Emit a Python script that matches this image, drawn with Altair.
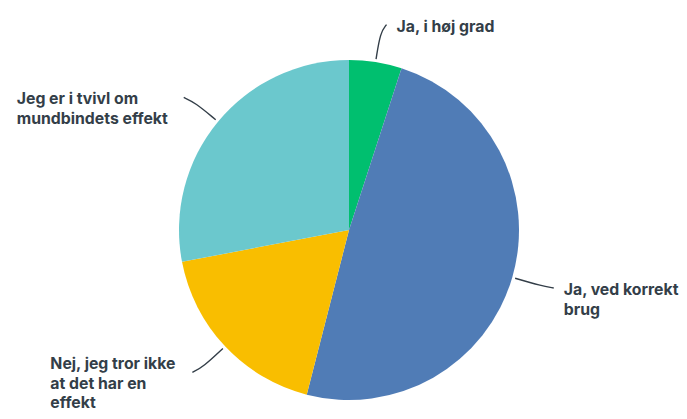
import math
import altair as alt
import pandas as pd

# ---- data ----
categories = [
    "Ja, i høj grad",
    "Ja, ved korrekt brug",
    "Nej, jeg tror ikke at det har en effekt",
    "Jeg er i tvivl om mundbindets effekt",
]
values = [5, 49, 18, 28]
label_lines = [
    ["Ja, i høj grad"],
    ["Ja, ved korrekt", "brug"],
    ["Nej, jeg tror ikke", "at det har en", "effekt"],
    ["Jeg er i tvivl om", "mundbindets effekt"],
]
colors = ["#00BF6F", "#507CB6", "#F9BE00", "#6BC8CD"]

# ---- layout (styles / geometry, not data) ----
W, H = 671, 403
CX, CY, R = 341, 222, 170
R_START, R_BEND, R_END, HOOK = 173, 200, 208, 5
GAP_RIGHT, GAP_LEFT = 10, 12
LEFT_LABEL_WIDTH = {2: 130, 3: 155}
LABEL_DY = {2: -10}          # keep the 3-line label inside the bottom edge
FONT = "Inter"
FS = 15.8
LH = 19.5
TEXT_COLOR = "#333E48"

total = sum(values)
pie = pd.DataFrame({"cat": categories, "value": values, "idx": range(len(values))})

line_rows, text_rows = [], []
cum = 0.0
for i, v in enumerate(values):
    mid = (cum + v / 2) / total * 2 * math.pi
    cum += v
    s, c = math.sin(mid), math.cos(mid)
    side = 1 if s >= 0 else -1
    pts = [
        (CX + R_START * s, CY - R_START * c),
        (CX + R_BEND * s, CY - R_BEND * c),
        (CX + R_END * s + side * HOOK, CY - R_END * c),
    ]
    for k, (x, y) in enumerate(pts):
        line_rows.append({"cat": categories[i], "k": k, "x": x, "y": y})
    ex, ey = pts[-1]
    lx = ex + GAP_RIGHT if side > 0 else ex - GAP_LEFT - LEFT_LABEL_WIDTH.get(i, 100)
    text_rows.append({"cat": categories[i], "lines": label_lines[i],
                      "x": lx, "y": ey - 5 + LABEL_DY.get(i, 0)})

lines_df = pd.DataFrame(line_rows)
text_df = pd.DataFrame(text_rows)

xs = alt.Scale(domain=[0, W], range=[0, W])
ys = alt.Scale(domain=[0, H], range=[0, H])

arcs = alt.Chart(pie).mark_arc(radius=R).encode(
    theta=alt.Theta("value:Q", stack=True),
    order=alt.Order("idx:Q"),
    color=alt.Color("cat:N", scale=alt.Scale(domain=categories, range=colors), legend=None),
    x=alt.value(CX),
    y=alt.value(CY),
)

leaders = alt.Chart(lines_df).mark_line(
    interpolate="basis", color=TEXT_COLOR, strokeWidth=1.4
).encode(
    x=alt.X("x:Q", scale=xs, axis=None),
    y=alt.Y("y:Q", scale=ys, axis=None),
    detail="cat:N",
    order="k:Q",
)

labels = alt.Chart(text_df).mark_text(
    align="left", baseline="top", font=FONT, fontSize=FS, fontWeight=700,
    color=TEXT_COLOR, lineHeight=LH,
).encode(
    x=alt.X("x:Q", scale=xs, axis=None),
    y=alt.Y("y:Q", scale=ys, axis=None),
    text="lines",
)

chart = alt.layer(arcs, leaders, labels).properties(
    width=W, height=H, padding=0, autosize="none"
).configure_view(stroke=None)

chart.save("out.html", embed_options={"renderer": "svg", "actions": False})
